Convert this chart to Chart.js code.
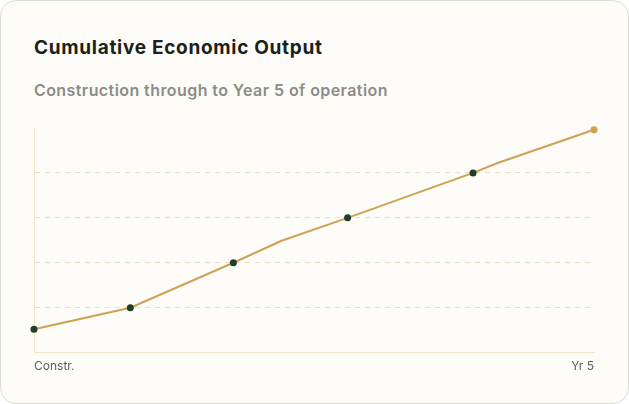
<!DOCTYPE html>
<html lang="en">
<head>
    <meta charset="UTF-8">
    <title>Cumulative Economic Output</title>
    <script src="https://cdn.jsdelivr.net/npm/chart.js@4.4.1/dist/chart.umd.min.js"></script>
    <style>
        html, body { margin: 0; padding: 0; background: #ffffff; }
        .card {
            position: absolute;
            left: 0; top: 0;
            width: 627px; height: 402px;
            border: 1px solid #dedcd6;
            border-radius: 16px;
            background: #fdfcf8;
            font-family: "Inter", "Noto Sans", sans-serif;
        }
        .card h1 {
            position: absolute; left: 33px; top: 35px; margin: 0;
            font-size: 19px; font-weight: 700; color: #1b211b;
            letter-spacing: 0.7px;
        }
        .card h2 {
            position: absolute; left: 33px; top: 79px; margin: 0;
            font-size: 16px; font-weight: 600; color: #8d8c87;
            letter-spacing: 0.42px;
        }
        .chart-box {
            position: absolute; left: 28px; top: 121px;
            width: 571px; height: 251px;
        }
    </style>
</head>
<body>
    <div class="card">
        <h1>Cumulative Economic Output</h1>
        <h2>Construction through to Year 5 of operation</h2>
        <div class="chart-box"><canvas id="output"></canvas></div>
    </div>
    <script>
        // x in years from start of construction, y in output units (grid step = 1)
        const xYears = [0, 0.86, 1.78, 2.21, 2.80, 3.92, 4.14, 5];
        const outputValues = [0.52, 1, 2, 2.49, 3, 4, 4.22, 4.96];
        const markerShown = [true, true, true, false, true, true, false, true];
        const tickLabels = { 0: 'Constr.', 5: 'Yr 5' };

        const gold = '#cfa152';
        const darkGreen = '#1f3d27';

        const points = xYears.map((x, i) => ({ x: x, y: outputValues[i] }));

        new Chart(document.getElementById('output').getContext('2d'), {
            type: 'line',
            data: {
                datasets: [{
                    data: points,
                    borderColor: gold,
                    borderWidth: 2,
                    tension: 0,
                    clip: false,
                    pointRadius: markerShown.map(s => s ? 3.5 : 0),
                    pointHoverRadius: markerShown.map(s => s ? 3.5 : 0),
                    pointBackgroundColor: xYears.map((x, i) => i === xYears.length - 1 ? gold : darkGreen),
                    pointBorderWidth: 0
                }]
            },
            options: {
                responsive: true,
                maintainAspectRatio: false,
                animation: false,
                layout: { padding: { left: 5, right: 6, top: 6, bottom: 0 } },
                plugins: { legend: { display: false }, tooltip: { enabled: false } },
                scales: {
                    x: {
                        type: 'linear',
                        min: 0, max: 5,
                        grid: { display: false },
                        border: { color: '#f1e6c6', width: 1 },
                        ticks: {
                            stepSize: 5,
                            align: 'inner',
                            maxRotation: 0,
                            color: '#5e5e5a',
                            font: { family: 'Inter', size: 12 },
                            padding: -1,
                            callback: v => tickLabels[v] || ''
                        }
                    },
                    y: {
                        min: 0, max: 5,
                        border: { color: '#f1e6c6', width: 1, dash: [5, 5] },
                        grid: {
                            color: ctx => (ctx.tick.value > 0 && ctx.tick.value < 5) ? '#ebdfc2' : 'rgba(0,0,0,0)',
                            drawTicks: false
                        },
                        ticks: { display: false, stepSize: 1 }
                    }
                }
            }
        });
    </script>
</body>
</html>
